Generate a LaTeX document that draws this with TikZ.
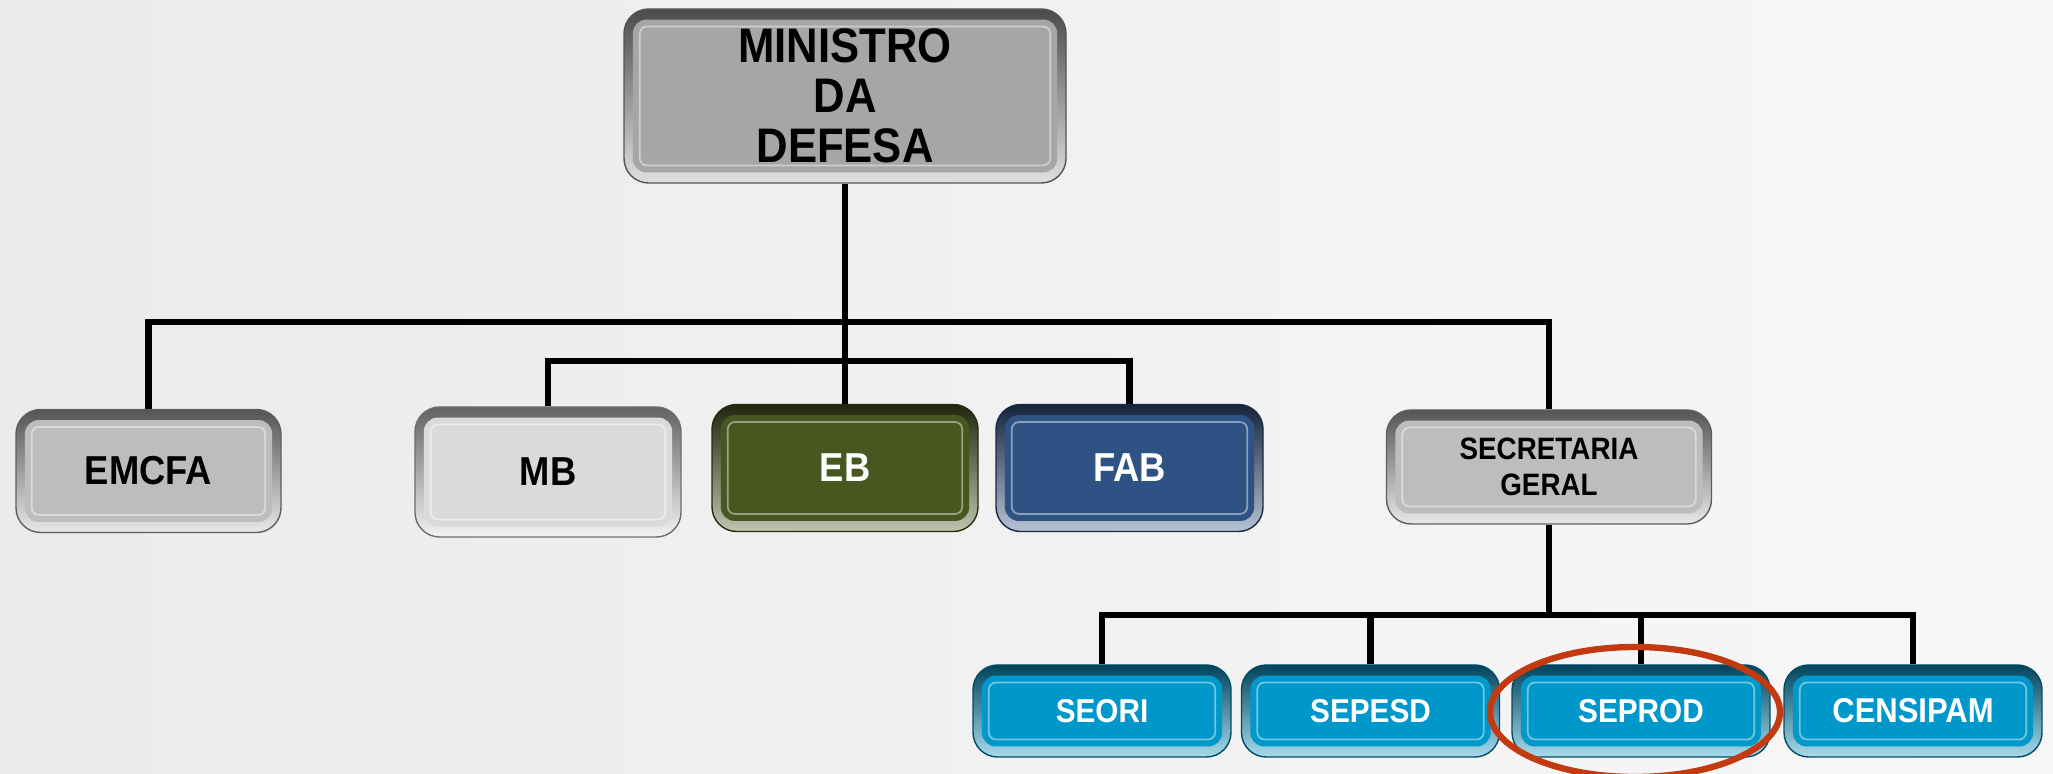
\documentclass[tikz,border=0pt]{standalone}
\usepackage{fontspec}
\setmainfont[FakeStretch=0.9]{Liberation Sans}
\definecolor{cinzaescuro}{HTML}{A6A6A6}
\definecolor{cinza}{HTML}{BDBDBD}
\definecolor{cinzaclaro}{HTML}{DADADA}
\definecolor{verdeeb}{HTML}{48561F}
\definecolor{azulfab}{HTML}{2D5283}
\definecolor{azulsec}{HTML}{0097CA}
\definecolor{vermelho}{HTML}{C43A10}
\tikzset{
  caixa/.style={rounded corners=7pt, inner sep=0pt, align=center, font=\bfseries,
    top color=#1!45!black, bottom color=#1!35!white, draw=#1!50!black, line width=0.4pt,
    path picture={
      \fill[#1, rounded corners=4pt] ([shift={(2.5pt,3pt)}]path picture bounding box.south west)
        rectangle ([shift={(-2.5pt,-3pt)}]path picture bounding box.north east);
      \draw[#1!55!white, line width=0.5pt, rounded corners=2pt] ([shift={(4.5pt,5pt)}]path picture bounding box.south west)
        rectangle ([shift={(-4.5pt,-5pt)}]path picture bounding box.north east);}},
  linha/.style={line width=1.8pt, black},
  baixo/.style={caixa=azulsec, minimum width=2.58cm, minimum height=0.92cm, text=white,
    font=\bfseries\fontsize{9.4}{11}\selectfont}
}
\begin{document}
\begin{tikzpicture}
  \useasboundingbox (0,0) rectangle (20.53,7.74);
  \shade[left color=black!8, right color=black!3] (0,0) rectangle (20.53,7.74);
  % topo
  \node[caixa=cinzaescuro, minimum width=4.42cm, minimum height=1.74cm,
    font=\bfseries\fontsize{13.8}{14.3}\selectfont] (ministro) at (8.45,6.78) {MINISTRO\\DA\\DEFESA};
  % segundo nivel
  \node[caixa=cinza, minimum width=2.65cm, minimum height=1.23cm,
    font=\bfseries\fontsize{11.5}{13}\selectfont] (emcfa) at (1.485,3.03) {EMCFA};
  \node[caixa=cinzaclaro, minimum width=2.66cm, minimum height=1.30cm,
    font=\bfseries\fontsize{11.5}{13}\selectfont] (mb) at (5.48,3.02) {MB};
  \node[caixa=verdeeb, minimum width=2.66cm, minimum height=1.27cm, text=white,
    font=\bfseries\fontsize{11.5}{13}\selectfont] (eb) at (8.45,3.06) {EB};
  \node[caixa=azulfab, minimum width=2.67cm, minimum height=1.27cm, text=white,
    font=\bfseries\fontsize{11.5}{13}\selectfont] (fab) at (11.295,3.06) {FAB};
  \node[caixa=cinza, minimum width=3.25cm, minimum height=1.14cm,
    font=\bfseries\fontsize{8.8}{10.2}\selectfont] (sg) at (15.49,3.07) {SECRETARIA\\GERAL};
  % terceiro nivel
  \node[baixo] (seori) at (11.02,0.63) {SEORI};
  \node[baixo] (sepesd) at (13.705,0.63) {SEPESD};
  \node[baixo] (seprod) at (16.41,0.63) {SEPROD};
  \node[baixo, font=\bfseries\fontsize{9.8}{11}\selectfont] (censipam) at (19.13,0.63) {CENSIPAM};
  % ligacoes
  \coordinate (bus1) at (8.45,4.52);
  \coordinate (bus2) at (8.45,4.13);
  \coordinate (bus3) at (15.49,1.59);
  \draw[linha] (ministro.south) -- (eb.north);
  \draw[linha] (emcfa.north) |- (bus1) -| (sg.north);
  \draw[linha] (mb.north) |- (bus2) -| (fab.north);
  \draw[linha] (sg.south) -- (bus3);
  \draw[linha] (seori.north) |- (bus3) -| (censipam.north);
  \draw[linha] (sepesd.north) -- (sepesd.north |- bus3);
  \draw[linha] (seprod.north) -- (seprod.north |- bus3);
  % destaque
  \draw[vermelho, line width=1.8pt] ([xshift=-0.06cm,yshift=-0.01cm]seprod.center) ellipse (1.45 and 0.65);
\end{tikzpicture}
\end{document}
